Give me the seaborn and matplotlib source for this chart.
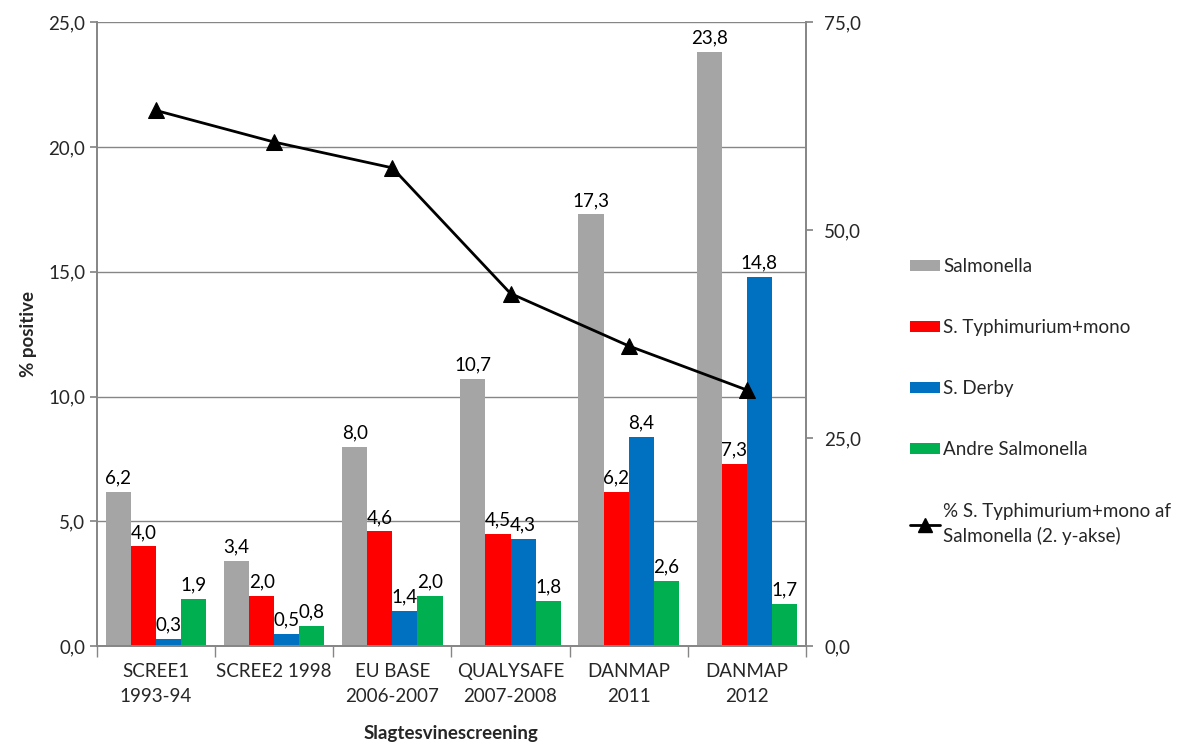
import numpy as np
import pandas as pd
import seaborn as sns
import matplotlib
matplotlib.use("Agg")
import matplotlib.pyplot as plt
from matplotlib.patches import Patch
from matplotlib.lines import Line2D
from matplotlib.ticker import FuncFormatter, MultipleLocator

categories = ["SCREE1\n1993-94", "SCREE2 1998", "EU BASE\n2006-2007",
              "QUALYSAFE\n2007-2008", "DANMAP\n2011", "DANMAP\n2012"]
series_names = ["Salmonella", "S. Typhimurium+mono", "S. Derby", "Andre Salmonella"]
salmonella = [6.2, 3.4, 8.0, 10.7, 17.3, 23.8]
typhimurium = [4.0, 2.0, 4.6, 4.5, 6.2, 7.3]
derby = [0.3, 0.5, 1.4, 4.3, 8.4, 14.8]
andre = [1.9, 0.8, 2.0, 1.8, 2.6, 1.7]
share_typhimurium = [64.4, 60.6, 57.5, 42.4, 36.1, 30.8]
line_label = "% S. Typhimurium+mono af\nSalmonella (2. y-akse)"

colors = ["#A5A5A5", "#FF0000", "#0070C0", "#00B050"]
FS = 13.5

sns.set_theme(style="white")
plt.rcParams["font.family"] = ["Lato", "DejaVu Sans"]

df = pd.DataFrame({
    "Kategori": np.repeat(categories, 4),
    "Serie": series_names * len(categories),
    "Procent": np.ravel(np.column_stack([salmonella, typhimurium, derby, andre])),
})

fig = plt.figure(figsize=(11.91, 7.42), dpi=100)
ax = fig.add_axes([0.0814, 0.129, 0.5953, 0.841])

sns.barplot(data=df, x="Kategori", y="Procent", hue="Serie", order=categories,
            hue_order=series_names, palette=colors, width=0.85, gap=0,
            saturation=1, legend=False, ax=ax, errorbar=None, linewidth=0)

comma = lambda v: f"{v:.1f}".replace(".", ",")
for cont in ax.containers:
    for bar in cont:
        h = bar.get_height()
        ax.annotate(comma(h), (bar.get_x() + bar.get_width() / 2, h),
                    xytext=(0, 4), textcoords="offset points",
                    ha="center", va="bottom", fontsize=FS, color="black")

ax.set_ylim(0, 25)
ax.set_xlim(-0.5, len(categories) - 0.5)
ax.yaxis.set_major_locator(MultipleLocator(5))
ax.yaxis.set_major_formatter(FuncFormatter(lambda v, p: comma(v)))
ax.grid(axis="y", color="#868686", linewidth=1)
ax.set_axisbelow(True)
ax.set_ylabel("% positive", fontsize=FS, fontweight="bold", labelpad=8)
ax.set_xlabel("Slagtesvinescreening", fontsize=FS, fontweight="bold", labelpad=14)
ax.tick_params(axis="x", length=0, labelsize=FS, pad=12)
ax.tick_params(axis="y", labelsize=FS, left=True, length=5, color="#868686")
ax.set_xticks(range(len(categories)))
ax.set_xticklabels(categories, linespacing=1.6)
ax.set_xticks(np.arange(-0.5, len(categories)), minor=True)
ax.tick_params(axis="x", which="minor", bottom=True, length=8, color="#868686")
for s in ["left", "right", "bottom"]:
    ax.spines[s].set_color("#868686")
ax.spines["top"].set_visible(False)

ax2 = ax.twinx()
sns.lineplot(x=np.arange(len(categories)), y=share_typhimurium, ax=ax2,
             color="black", linewidth=2, marker="^", markersize=11,
             markeredgecolor="black", legend=False)
ax2.set_ylim(0, 75)
ax2.yaxis.set_major_locator(MultipleLocator(25))
ax2.yaxis.set_major_formatter(FuncFormatter(lambda v, p: comma(v)))
ax2.tick_params(axis="y", labelsize=FS, right=True, length=5, color="#868686", pad=8)
for s in ["left", "right", "bottom"]:
    ax2.spines[s].set_color("#868686")
ax2.spines["top"].set_visible(False)
ax2.grid(False)

handles = [Patch(facecolor=c, edgecolor="none") for c in colors]
handles.append(Line2D([0], [0], color="black", linewidth=2, marker="^", markersize=10))
labels = series_names + [line_label]
leg = fig.legend(handles, labels, loc="upper left", bbox_to_anchor=(0.758, 0.662),
                 frameon=False, fontsize=FS, labelspacing=2.35, handlelength=1.6,
                 handleheight=0.5, handletextpad=0.15, borderaxespad=0)
for t in leg.get_texts():
    t.set_linespacing(1.5)

fig.savefig("out.png", dpi=100)
